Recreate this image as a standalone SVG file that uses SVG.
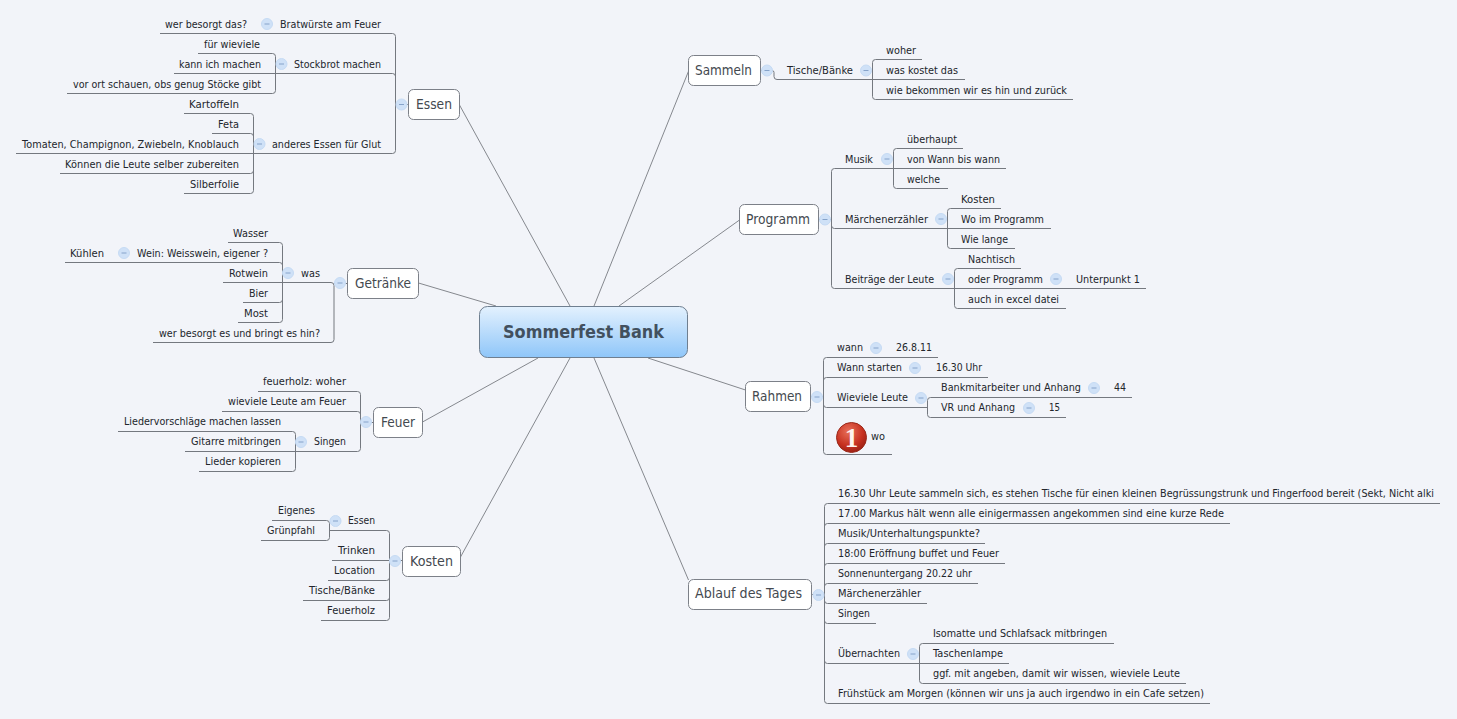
<svg xmlns="http://www.w3.org/2000/svg" width="1457" height="719" viewBox="0 0 1457 719">
<style>
.t{font-family:"DejaVu Sans","Liberation Sans",sans-serif;font-size:11px;fill:#22262c}
.x{font-family:"DejaVu Sans Condensed","Liberation Sans Narrow","Liberation Sans",sans-serif;font-stretch:condensed;font-size:10.5px;fill:#22262c}
.n{font-family:"DejaVu Sans","Liberation Sans",sans-serif;font-size:14px;fill:#44494f}
.b{fill:#fff;stroke:#7c8088;stroke-width:1}
.c{fill:none;stroke:#74787f;stroke-width:1}
.s{fill:none;stroke:#85888e;stroke-width:1}
</style>
<defs>
<linearGradient id="cg" x1="0" y1="0" x2="0" y2="1"><stop offset="0" stop-color="#e3f1fe"/><stop offset="1" stop-color="#8fc6f9"/></linearGradient>
<radialGradient id="rg" cx="0.4" cy="0.3" r="0.8"><stop offset="0" stop-color="#e8705a"/><stop offset="0.6" stop-color="#c6301f"/><stop offset="1" stop-color="#8e1c12"/></radialGradient>
<g id="m"><circle r="5.5" fill="#cfe1f7" stroke="#c6dbf4"/><path d="M-2.5 0H2.5" stroke="#86a3ca" stroke-width="1"/></g>
</defs>
<rect width="1457" height="719" fill="#f2f4f9"/>
<g id="connectors">
<path class="s" d="M459.5 105L570 306M418.5 283L496 306M422.5 422L538 358M460.5 557L570 358M689 70L594 306M739.5 220L619 306M745.5 390L648 358M688.5 580L594 358"/>
<path class="c" d="M160 33.5H392.5Q395.5 33.5 395.5 36.5V150.5Q395.5 153.5 392.5 153.5H16M174 73.5H392.5Q395.5 73.5 395.5 76.5M395.5 104.5H408.5"/>
<path class="c" d="M198 53.5H272.5Q275.5 53.5 275.5 56.5V90.5Q275.5 93.5 272.5 93.5H67"/>
<path class="c" d="M184 113.5H250.5Q253.5 113.5 253.5 116.5V190.5Q253.5 193.5 250.5 193.5H184M212 133.5H250.5Q253.5 133.5 253.5 136.5M60 173.5H250.5Q253.5 173.5 253.5 170.5"/>
<path class="c" d="M223 282.5H331Q334 282.5 334 285.5V339.5Q334 342.5 331 342.5H153M334 283.5H347.5"/>
<path class="c" d="M228 242.5H279.5Q282.5 242.5 282.5 245.5V319.5Q282.5 322.5 279.5 322.5H238M65 262.5H279.5Q282.5 262.5 282.5 265.5M243 302.5H279.5Q282.5 302.5 282.5 299.5"/>
<path class="c" d="M258 391.5H357.5Q360.5 391.5 360.5 394.5V448.5Q360.5 451.5 357.5 451.5H185M222 411.5H357.5Q360.5 411.5 360.5 414.5M360.5 422.5H373.5"/>
<path class="c" d="M118 431.5H292.5Q295.5 431.5 295.5 434.5V468.5Q295.5 471.5 292.5 471.5H199"/>
<path class="c" d="M329 530.5H386.5Q389.5 530.5 389.5 533.5V617.5Q389.5 620.5 386.5 620.5H321M332 560.5H402.5M328 580.5H386.5Q389.5 580.5 389.5 577.5M303 600.5H386.5Q389.5 600.5 389.5 597.5"/>
<path class="c" d="M272 520.5H326.5Q329.5 520.5 329.5 523.5V537.5Q329.5 540.5 326.5 540.5H261"/>
<path class="c" d="M760.5 70.5H772Q774 70.5 774 72.5V76.5Q774 79.5 777 79.5H965M922 59.5H875.5Q872.5 59.5 872.5 62.5V96.5Q872.5 99.5 875.5 99.5H1073"/>
<path class="c" d="M818.5 219.5H831.5M893 168.5H834.5Q831.5 168.5 831.5 171.5V285.5Q831.5 288.5 834.5 288.5H1146M1006 168.5H893.5M834.5 228.5Q831.5 228.5 831.5 225.5M834.5 228.5H1051"/>
<path class="c" d="M963 148.5H896.5Q893.5 148.5 893.5 151.5V185.5Q893.5 188.5 896.5 188.5H948"/>
<path class="c" d="M1001 208.5H950.5Q947.5 208.5 947.5 211.5V245.5Q947.5 248.5 950.5 248.5H1015"/>
<path class="c" d="M1021 268.5H957.5Q954.5 268.5 954.5 271.5V305.5Q954.5 308.5 957.5 308.5H1066"/>
<path class="c" d="M810.5 396.5H823.5M938 357.5H826.5Q823.5 357.5 823.5 360.5V451.5Q823.5 454.5 826.5 454.5H892M988 377.5H826.5Q823.5 377.5 823.5 380.5M826.5 407.5H927.5M826.5 407.5Q823.5 407.5 823.5 404.5"/>
<path class="c" d="M1132 397.5H930.5Q927.5 397.5 927.5 400.5V414.5Q927.5 417.5 930.5 417.5H1066"/>
<path class="c" d="M811.5 594.5H824.5M1440 503.5H827.5Q824.5 503.5 824.5 506.5V700.5Q824.5 703.5 827.5 703.5H1210M1230 523.5H827.5Q824.5 523.5 824.5 526.5M985 543.5H827.5Q824.5 543.5 824.5 546.5M1005 563.5H827.5Q824.5 563.5 824.5 566.5M978 583.5H827.5Q824.5 583.5 824.5 586.5M927 603.5H827.5Q824.5 603.5 824.5 600.5M876 623.5H827.5Q824.5 623.5 824.5 620.5M1009 663.5H827.5Q824.5 663.5 824.5 660.5"/>
<path class="c" d="M1114 643.5H922.5Q919.5 643.5 919.5 646.5V680.5Q919.5 683.5 922.5 683.5H1186"/>
</g>
<g id="center"><rect x="479.5" y="306.5" width="208" height="51" rx="8" fill="url(#cg)" stroke="#6f7f90"/><text x="503" y="338" textLength="161" lengthAdjust="spacingAndGlyphs" style="font-family:'DejaVu Sans',sans-serif;font-weight:700;font-size:18px;fill:#42505e">Sommerfest Bank</text></g>

<g id="essen"><rect class="b" x="408.5" y="89.5" width="51" height="30" rx="5"/><text class="n" x="416" y="109" textLength="36" lengthAdjust="spacingAndGlyphs">Essen</text><use href="#m" x="401.5" y="104.5"/></g>
<g id="bratwurste"><text class="t" x="280" y="28" textLength="101" lengthAdjust="spacingAndGlyphs">Bratwürste am Feuer</text><use href="#m" x="267" y="24"/></g>
<g id="wer-besorgt"><text class="t" x="165" y="28" textLength="82" lengthAdjust="spacingAndGlyphs">wer besorgt das?</text></g>
<g id="stockbrot"><text class="t" x="294" y="68" textLength="87" lengthAdjust="spacingAndGlyphs">Stockbrot machen</text><use href="#m" x="281.5" y="64"/></g>
<g id="fur-wieviele"><text class="t" x="204" y="48" textLength="56" lengthAdjust="spacingAndGlyphs">für wieviele</text></g>
<g id="kann-ich"><text class="t" x="179" y="68" textLength="82" lengthAdjust="spacingAndGlyphs">kann ich machen</text></g>
<g id="vor-ort"><text class="t" x="73" y="88" textLength="188" lengthAdjust="spacingAndGlyphs">vor ort schauen, obs genug Stöcke gibt</text></g>
<g id="anderes"><text class="t" x="272" y="148" textLength="109" lengthAdjust="spacingAndGlyphs">anderes Essen für Glut</text><use href="#m" x="259.5" y="144"/></g>
<g id="kartoffeln"><text class="t" x="189" y="108" textLength="50" lengthAdjust="spacingAndGlyphs">Kartoffeln</text></g>
<g id="feta"><text class="t" x="218" y="128" textLength="21" lengthAdjust="spacingAndGlyphs">Feta</text></g>
<g id="tomaten"><text class="t" x="22" y="148" textLength="217" lengthAdjust="spacingAndGlyphs">Tomaten, Champignon, Zwiebeln, Knoblauch</text></g>
<g id="konnen"><text class="t" x="65" y="168" textLength="174" lengthAdjust="spacingAndGlyphs">Können die Leute selber zubereiten</text></g>
<g id="silberfolie"><text class="t" x="190" y="188" textLength="49" lengthAdjust="spacingAndGlyphs">Silberfolie</text></g>

<g id="getranke"><rect class="b" x="347.5" y="268.5" width="71" height="30" rx="5"/><text class="n" x="355" y="288" textLength="56" lengthAdjust="spacingAndGlyphs">Getränke</text><use href="#m" x="340" y="283"/></g>
<g id="was"><text class="t" x="301" y="277" textLength="19" lengthAdjust="spacingAndGlyphs">was</text><use href="#m" x="288" y="273"/></g>
<g id="wasser"><text class="t" x="233" y="237" textLength="35" lengthAdjust="spacingAndGlyphs">Wasser</text></g>
<g id="wein"><text class="t" x="137" y="257" textLength="131" lengthAdjust="spacingAndGlyphs">Wein: Weisswein, eigener ?</text><use href="#m" x="124" y="253"/></g>
<g id="kuhlen"><text class="t" x="70" y="257" textLength="34" lengthAdjust="spacingAndGlyphs">Kühlen</text></g>
<g id="rotwein"><text class="t" x="229" y="277" textLength="39" lengthAdjust="spacingAndGlyphs">Rotwein</text></g>
<g id="bier"><text class="t" x="249" y="297" textLength="19" lengthAdjust="spacingAndGlyphs">Bier</text></g>
<g id="most"><text class="t" x="244" y="317" textLength="24" lengthAdjust="spacingAndGlyphs">Most</text></g>
<g id="wer-besorgt-es"><text class="t" x="159" y="337" textLength="161" lengthAdjust="spacingAndGlyphs">wer besorgt es und bringt es hin?</text></g>

<g id="feuer"><rect class="b" x="373.5" y="407.5" width="49" height="30" rx="5"/><text class="n" x="381" y="427" textLength="34" lengthAdjust="spacingAndGlyphs">Feuer</text><use href="#m" x="366" y="422"/></g>
<g id="feuerholz-woher"><text class="t" x="263" y="385" textLength="83" lengthAdjust="spacingAndGlyphs">feuerholz: woher</text></g>
<g id="wieviele-leute"><text class="t" x="228" y="405" textLength="118" lengthAdjust="spacingAndGlyphs">wieviele Leute am Feuer</text></g>
<g id="singen"><text class="t" x="314" y="445" textLength="32" lengthAdjust="spacingAndGlyphs">Singen</text><use href="#m" x="301" y="442"/></g>
<g id="liedervorschlage"><text class="t" x="124" y="425" textLength="157" lengthAdjust="spacingAndGlyphs">Liedervorschläge machen lassen</text></g>
<g id="gitarre"><text class="t" x="191" y="445" textLength="90" lengthAdjust="spacingAndGlyphs">Gitarre mitbringen</text></g>
<g id="lieder-kopieren"><text class="t" x="205" y="465" textLength="76" lengthAdjust="spacingAndGlyphs">Lieder kopieren</text></g>

<g id="kosten"><rect class="b" x="402.5" y="546.5" width="58" height="30" rx="5"/><text class="n" x="410" y="566" textLength="43" lengthAdjust="spacingAndGlyphs">Kosten</text><use href="#m" x="395" y="561"/></g>
<g id="kosten-essen"><text class="t" x="348" y="524" textLength="27" lengthAdjust="spacingAndGlyphs">Essen</text><use href="#m" x="335.5" y="521"/></g>
<g id="eigenes"><text class="t" x="278" y="514" textLength="37" lengthAdjust="spacingAndGlyphs">Eigenes</text></g>
<g id="grunpfahl"><text class="t" x="267" y="534" textLength="48" lengthAdjust="spacingAndGlyphs">Grünpfahl</text></g>
<g id="trinken"><text class="t" x="338" y="554" textLength="37" lengthAdjust="spacingAndGlyphs">Trinken</text></g>
<g id="location"><text class="t" x="334" y="574" textLength="41" lengthAdjust="spacingAndGlyphs">Location</text></g>
<g id="tische-kosten"><text class="t" x="309" y="594" textLength="66" lengthAdjust="spacingAndGlyphs">Tische/Bänke</text></g>
<g id="feuerholz"><text class="t" x="327" y="614" textLength="48" lengthAdjust="spacingAndGlyphs">Feuerholz</text></g>

<g id="sammeln"><rect class="b" x="688.5" y="55.5" width="72" height="30" rx="5"/><text class="n" x="695" y="75" textLength="57" lengthAdjust="spacingAndGlyphs">Sammeln</text><use href="#m" x="767" y="70.5"/></g>
<g id="tische"><text class="t" x="787" y="74" textLength="66" lengthAdjust="spacingAndGlyphs">Tische/Bänke</text><use href="#m" x="866" y="70.5"/></g>
<g id="woher"><text class="t" x="886" y="54" textLength="30" lengthAdjust="spacingAndGlyphs">woher</text></g>
<g id="was-kostet"><text class="t" x="886" y="74" textLength="72" lengthAdjust="spacingAndGlyphs">was kostet das</text></g>
<g id="wie-bekommen"><text class="t" x="886" y="94" textLength="181" lengthAdjust="spacingAndGlyphs">wie bekommen wir es hin und zurück</text></g>

<g id="programm"><rect class="b" x="739.5" y="204.5" width="79" height="30" rx="5"/><text class="n" x="746" y="224" textLength="64" lengthAdjust="spacingAndGlyphs">Programm</text><use href="#m" x="825" y="219.5"/></g>
<g id="musik"><text class="t" x="845" y="163" textLength="28" lengthAdjust="spacingAndGlyphs">Musik</text><use href="#m" x="887" y="159"/></g>
<g id="uberhaupt"><text class="t" x="907" y="143" textLength="50" lengthAdjust="spacingAndGlyphs">überhaupt</text></g>
<g id="von-wann"><text class="t" x="907" y="163" textLength="93" lengthAdjust="spacingAndGlyphs">von Wann bis wann</text></g>
<g id="welche"><text class="t" x="907" y="183" textLength="33" lengthAdjust="spacingAndGlyphs">welche</text></g>
<g id="marchen"><text class="t" x="845" y="223" textLength="83" lengthAdjust="spacingAndGlyphs">Märchenerzähler</text><use href="#m" x="941" y="219"/></g>
<g id="prog-kosten"><text class="t" x="961" y="203" textLength="34" lengthAdjust="spacingAndGlyphs">Kosten</text></g>
<g id="wo-im"><text class="t" x="961" y="223" textLength="83" lengthAdjust="spacingAndGlyphs">Wo im Programm</text></g>
<g id="wie-lange"><text class="t" x="961" y="243" textLength="47" lengthAdjust="spacingAndGlyphs">Wie lange</text></g>
<g id="beitrage"><text class="t" x="845" y="283" textLength="89" lengthAdjust="spacingAndGlyphs">Beiträge der Leute</text><use href="#m" x="948" y="279"/></g>
<g id="nachtisch"><text class="t" x="968" y="263" textLength="47" lengthAdjust="spacingAndGlyphs">Nachtisch</text></g>
<g id="oder-programm"><text class="t" x="968" y="283" textLength="75" lengthAdjust="spacingAndGlyphs">oder Programm</text><use href="#m" x="1056" y="279"/></g>
<g id="unterpunkt"><text class="t" x="1076" y="283" textLength="64" lengthAdjust="spacingAndGlyphs">Unterpunkt 1</text></g>
<g id="auch-in"><text class="t" x="968" y="303" textLength="91" lengthAdjust="spacingAndGlyphs">auch in excel datei</text></g>

<g id="rahmen"><rect class="b" x="745.5" y="381.5" width="65" height="30" rx="5"/><text class="n" x="752" y="401" textLength="50" lengthAdjust="spacingAndGlyphs">Rahmen</text><use href="#m" x="817" y="397"/></g>
<g id="wann"><text class="t" x="837" y="351" textLength="26" lengthAdjust="spacingAndGlyphs">wann</text><use href="#m" x="876" y="348"/></g>
<g id="datum"><text class="t" x="896" y="351" textLength="36" lengthAdjust="spacingAndGlyphs">26.8.11</text></g>
<g id="wann-starten"><text class="t" x="837" y="371" textLength="65" lengthAdjust="spacingAndGlyphs">Wann starten</text><use href="#m" x="915" y="368"/></g>
<g id="uhr"><text class="t" x="936" y="371" textLength="46" lengthAdjust="spacingAndGlyphs">16.30 Uhr</text></g>
<g id="wieviele"><text class="t" x="837" y="401" textLength="71" lengthAdjust="spacingAndGlyphs">Wieviele Leute</text><use href="#m" x="921" y="398"/></g>
<g id="bankmitarbeiter"><text class="t" x="941" y="391" textLength="140" lengthAdjust="spacingAndGlyphs">Bankmitarbeiter und Anhang</text><use href="#m" x="1094" y="388"/></g>
<g id="n44"><text class="t" x="1114" y="391" textLength="12" lengthAdjust="spacingAndGlyphs">44</text></g>
<g id="vr"><text class="t" x="941" y="411" textLength="74" lengthAdjust="spacingAndGlyphs">VR und Anhang</text><use href="#m" x="1029" y="408"/></g>
<g id="n15"><text class="t" x="1049" y="411" textLength="11" lengthAdjust="spacingAndGlyphs">15</text></g>
<g id="wo"><circle cx="851.5" cy="437.5" r="15" fill="url(#rg)" stroke="#9a2a1c"/><text x="851.5" y="447" text-anchor="middle" style="font-family:'Liberation Serif',serif;font-weight:700;font-size:27px;fill:#fdf3ef">1</text><text class="t" x="871" y="440" textLength="14" lengthAdjust="spacingAndGlyphs">wo</text></g>

<g id="ablauf"><rect class="b" x="688.5" y="579.5" width="123" height="30" rx="5"/><text class="n" x="695" y="598" textLength="107" lengthAdjust="spacingAndGlyphs">Ablauf des Tages</text><use href="#m" x="818.5" y="595"/></g>
<g id="a1"><text class="x" x="838" y="497" textLength="596" lengthAdjust="spacingAndGlyphs">16.30 Uhr Leute sammeln sich, es stehen Tische für einen kleinen Begrüssungstrunk und Fingerfood bereit (Sekt, Nicht alki</text></g>
<g id="a2"><text class="t" x="838" y="517" textLength="386" lengthAdjust="spacingAndGlyphs">17.00 Markus hält wenn alle einigermassen angekommen sind eine kurze Rede</text></g>
<g id="a3"><text class="t" x="838" y="537" textLength="142" lengthAdjust="spacingAndGlyphs">Musik/Unterhaltungspunkte?</text></g>
<g id="a4"><text class="t" x="838" y="557" textLength="161" lengthAdjust="spacingAndGlyphs">18:00 Eröffnung buffet und Feuer</text></g>
<g id="a5"><text class="t" x="838" y="577" textLength="134" lengthAdjust="spacingAndGlyphs">Sonnenuntergang 20.22 uhr</text></g>
<g id="a6"><text class="t" x="838" y="597" textLength="83" lengthAdjust="spacingAndGlyphs">Märchenerzähler</text></g>
<g id="a7"><text class="t" x="838" y="617" textLength="32" lengthAdjust="spacingAndGlyphs">Singen</text></g>
<g id="a8"><text class="t" x="838" y="657" textLength="62" lengthAdjust="spacingAndGlyphs">Übernachten</text><use href="#m" x="913" y="654"/></g>
<g id="a8a"><text class="t" x="933" y="637" textLength="174" lengthAdjust="spacingAndGlyphs">Isomatte und Schlafsack mitbringen</text></g>
<g id="a8b"><text class="t" x="933" y="657" textLength="70" lengthAdjust="spacingAndGlyphs">Taschenlampe</text></g>
<g id="a8c"><text class="t" x="933" y="677" textLength="247" lengthAdjust="spacingAndGlyphs">ggf. mit angeben, damit wir wissen, wieviele Leute</text></g>
<g id="a9"><text class="t" x="838" y="697" textLength="366" lengthAdjust="spacingAndGlyphs">Frühstück am Morgen (können wir uns ja auch irgendwo in ein Cafe setzen)</text></g>
</svg>
